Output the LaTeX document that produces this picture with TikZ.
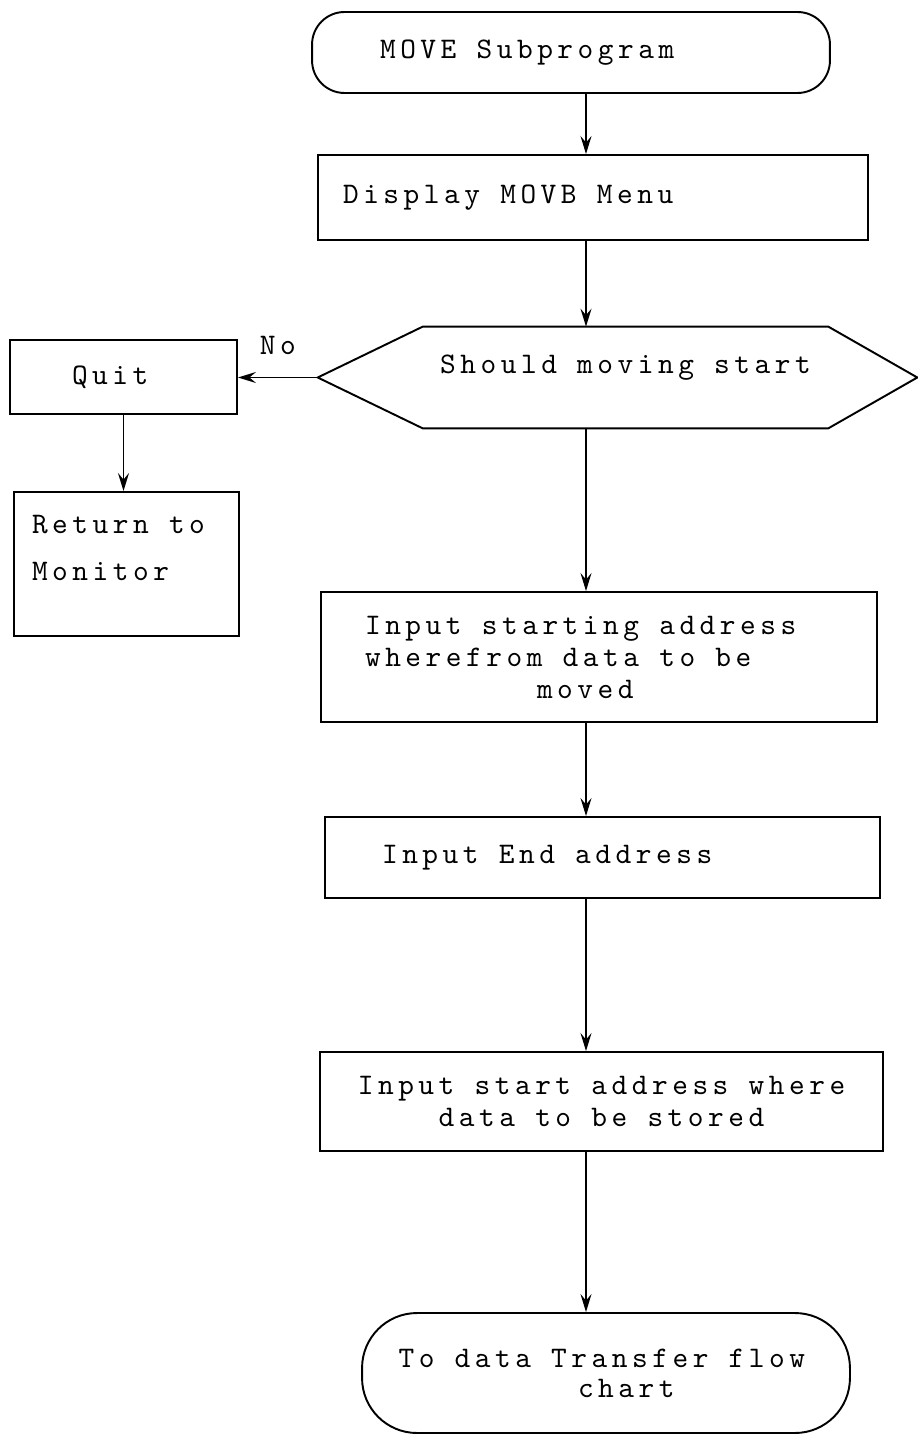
\documentclass[tikz,border=0pt]{standalone}
\usepackage{fontspec}
\usepackage{tikz}
\usetikzlibrary{arrows.meta,positioning}
\newfontfamily\tw{lmmono10-regular.otf}[LetterSpace=15.2]

\begin{document}
\begin{tikzpicture}[x=0.02cm, y=-0.02cm, font=\tw\fontsize{17}{18.2}\selectfont]
\tikzstyle{box}=[rectangle, draw=black, line width=1.1pt, align=flush left, inner ysep=0pt]
\tikzstyle{term}=[box, rounded corners=0.65cm]
\tikzstyle{decision}=[rectangle, inner sep=0pt, minimum width=8.1cm, minimum height=2.02cm, text height=0.36cm, text depth=0.52cm]
\tikzstyle{arrow}=[-{Stealth[length=0.36cm, width=0.22cm, inset=0.13cm]}, line width=1pt]
\useasboundingbox (0,0) rectangle (917,1435);
\coordinate (spine) at (586,0);
\node (start) [term, minimum width=10.36cm, minimum height=1.62cm, text width=7.64cm, inner xsep=1.36cm] at (571,52.5) {MOVE Subprogram};
\node (menu) [box, minimum width=11cm, minimum height=1.7cm, text width=10cm, inner xsep=0.5cm] at (593,197.5) {Display MOVB Menu};
\node (ask) [decision] at (625.5,377.5) {Should moving start};
\coordinate (tipL) at ([xshift=-2.1cm]ask.west);
\coordinate (tipR) at ([xshift=1.78cm]ask.east);
\draw[line width=1.1pt] (ask.north west) -- (ask.north east) -- (tipR) -- (ask.south east) -- (ask.south west) -- (tipL) -- cycle;
\node (quit) [box, minimum width=4.54cm, minimum height=1.48cm, text width=2.06cm, inner xsep=1.24cm] at (123.5,377) {Quit};
\node (ret) [box, minimum width=4.5cm, minimum height=2.88cm, text width=3.78cm, inner xsep=0.36cm] at (126.5,564) {Return to\\[8.5pt]Monitor\\\mbox{}};
\node (from) [box, minimum width=11.12cm, minimum height=2.6cm, text width=9.36cm, inner xsep=0.88cm] at (599,657) {Input starting address\\wherefrom data to be\\\hspace*{3.44cm}moved};
\node (endad) [box, minimum width=11.1cm, minimum height=1.62cm, text width=8.82cm, inner xsep=1.14cm] at (602.5,857.5) {Input End address};
\node (store) [box, align=center, minimum width=11.26cm, minimum height=1.98cm] at (601.5,1101.5) {Input start address where\\data to be stored};
\node (stop) [term, rounded corners=1.1cm, minimum width=9.76cm, minimum height=2.4cm, text width=8.3cm, inner xsep=0.73cm] at (606,1373) {To data Transfer flow\\[-1.2pt]\hspace*{3.59cm}chart};
\draw[arrow] (start.south -| spine) -- (menu.north -| spine);
\draw[arrow] (menu.south -| spine) -- (ask.north -| spine);
\draw[arrow] (ask.south -| spine) -- (from.north -| spine);
\draw[arrow] (from.south -| spine) -- (endad.north -| spine);
\draw[arrow] (endad.south -| spine) -- (store.north -| spine);
\draw[arrow] (store.south -| spine) -- (stop.north -| spine);
\draw[arrow] (tipL) -- node (no) [above=0.44cm, inner sep=0pt] {No} (tipL -| quit.east);
\draw[arrow] (quit.south) -- (quit.south |- ret.north);
\end{tikzpicture}
\end{document}
